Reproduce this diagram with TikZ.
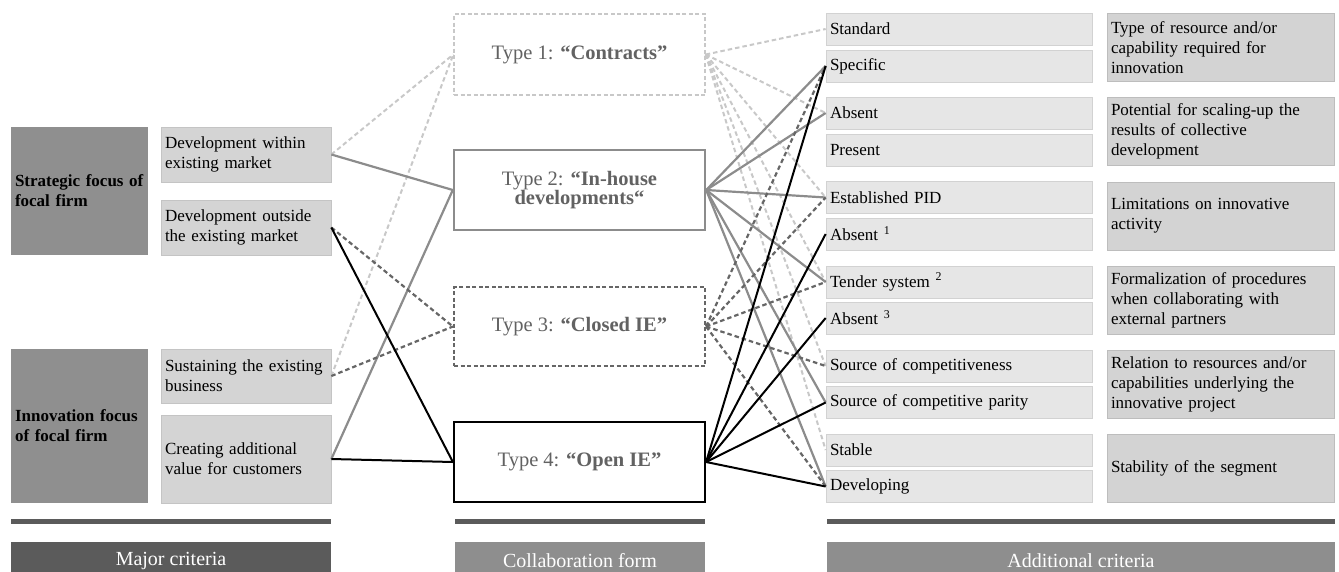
\documentclass[tikz,border=0pt]{standalone}
\usepackage{fontspec}
\setmainfont{Liberation Serif}
\definecolor{darkbox}{HTML}{8F8F8F}
\definecolor{lightbox}{HTML}{D4D4D4}
\definecolor{lightline}{HTML}{C4C4C4}
\definecolor{optfill}{HTML}{E6E6E6}
\definecolor{optline}{HTML}{D2D2D2}
\definecolor{critfill}{HTML}{D3D3D3}
\definecolor{critline}{HTML}{BDBDBD}
\definecolor{bardark}{HTML}{5B5B5B}
\definecolor{barmid}{HTML}{8E8E8E}
\definecolor{typetext}{HTML}{626262}
\definecolor{cone}{HTML}{C8C8C8}
\definecolor{ctwo}{HTML}{8C8C8C}
\definecolor{cthree}{HTML}{666666}
\newcommand{\fsbox}{\fontsize{17}{20}\selectfont}
\newcommand{\fstype}{\fontsize{20.5}{18}\selectfont}
\newcommand{\fsbar}{\fontsize{20}{22}\selectfont}
\tikzset{
  darkcrit/.style={fill=darkbox, draw=none, text width=129pt, inner xsep=4pt, inner ysep=0pt, align=left, font=\fsbox\bfseries},
  lightcrit/.style={fill=lightbox, draw=lightline, line width=0.7pt, text width=162pt, inner xsep=4pt, inner ysep=0pt, align=left, font=\fsbox},
  opt/.style={fill=optfill, draw=optline, line width=0.7pt, text width=258pt, inner xsep=4pt, inner ysep=0pt, minimum height=32pt, align=left, font=\fsbox},
  crit/.style={fill=critfill, draw=critline, line width=0.7pt, text width=219pt, inner xsep=4pt, inner ysep=0pt, minimum height=68pt, align=left, font=\fsbox},
  typebox/.style={fill=white, minimum width=251pt, minimum height=80pt, align=center, text=typetext, font=\fstype},
  tone/.style={typebox, draw=cone, dashed, line width=1.4pt, dash pattern=on 4pt off 2.5pt},
  ttwo/.style={typebox, draw=ctwo, line width=2.4pt},
  tthree/.style={typebox, draw=cthree, line width=2.2pt, dash pattern=on 4pt off 2.5pt},
  tfour/.style={typebox, draw=black, line width=2.2pt},
  barlabel/.style={text=white, minimum height=38pt, inner sep=0pt, font=\fsbar},
  barline/.style={draw=bardark, line width=5pt},
  cnone/.style={draw=cone, line width=2pt, dash pattern=on 4.5pt off 3pt},
  cntwo/.style={draw=ctwo, line width=2.2pt},
  cnthree/.style={draw=cthree, line width=2.2pt, dash pattern=on 4.5pt off 3pt},
  cnfour/.style={draw=black, line width=2pt},
}
\begin{document}
\begin{tikzpicture}[x=1pt, y=-1pt]
\useasboundingbox (0,0) rectangle (1339,571);
\clip (0,0) rectangle (1339,571);
% left major criteria
\node[darkcrit, minimum height=128pt] (sf) at (79.5,191) {Strategic focus of\\focal firm};
\node[darkcrit, minimum height=154pt] (inf) at (79.5,426) {Innovation focus\\of focal firm};
\node[lightcrit, minimum height=55pt] (dw) at (246,154.5) {Development within\\existing market};
\node[lightcrit, minimum height=55pt] (do) at (246,227.5) {Development outside\\the existing market};
\node[lightcrit, minimum height=54pt] (sus) at (246,376) {Sustaining the existing\\business};
\node[lightcrit, minimum height=88pt] (cav) at (246,459) {Creating additional\\value for customers};
% collaboration forms
\node[tone, minimum height=81pt] (t1) at (579.5,54.5) {Type 1: \textbf{“Contracts”}};
\node[ttwo] (t2) at (579.5,190) {Type 2: \textbf{“In-house}\\\textbf{developments“}};
\node[tthree, minimum height=79pt] (t3) at (579.5,326.5) {Type 3: \textbf{“Closed IE”}};
\node[tfour] (t4) at (579.5,462) {Type 4: \textbf{“Open IE”}};
% additional criteria options
\node[opt] (std) at (959,29) {Standard};
\node[opt] (spec) at (959,66) {Specific};
\node[opt] (abs) at (959,113) {Absent};
\node[opt] (pres) at (959,150) {Present};
\node[opt] (est) at (959,197.5) {Established PID};
\node[opt] (absone) at (959,234) {Absent \textsuperscript{1}};
\node[opt] (tender) at (959,282) {Tender system \textsuperscript{2}};
\node[opt] (absthree) at (959,318) {Absent \textsuperscript{3}};
\node[opt] (scomp) at (959,366) {Source of competitiveness};
\node[opt] (spar) at (959,402.5) {Source of competitive parity};
\node[opt] (stable) at (959,450) {Stable};
\node[opt] (devg) at (959,486.5) {Developing};
% additional criteria
\node[crit] (cra) at (1220.5,47.5) {Type of resource and/or\\capability required for\\innovation};
\node[crit] (crb) at (1220.5,131.5) {Potential for scaling-up the\\results of collective\\development};
\node[crit] (crc) at (1220.5,216) {Limitations on innovative\\activity};
\node[crit] (crd) at (1220.5,300) {Formalization of procedures\\when collaborating with\\external partners};
\node[crit] (cre) at (1220.5,384) {Relation to resources and/or\\capabilities underlying the\\innovative project};
\node[crit] (crf) at (1220.5,468) {Stability of the segment};
% bottom bars
\draw[barline] (11,521.5) -- (331,521.5);
\draw[barline] (455,521.5) -- (705,521.5);
\draw[barline] (827,521.5) -- (1335,521.5);
\node[barlabel, fill=bardark, minimum width=320pt] (lma) at (171,561) {Major criteria};
\node[barlabel, fill=barmid, minimum width=250pt] (lcf) at (580,561) {Collaboration form};
\node[barlabel, fill=barmid, minimum width=508pt] (lad) at (1081,561) {Additional criteria};
% connectors: type 1
\draw[cnone] (dw.east) -- (t1.west);
\draw[cnone] (sus.east) -- (t1.west);
\draw[cnone] (t1.east) -- (std.west);
\draw[cnone] (t1.east) -- (abs.west);
\draw[cnone] (t1.east) -- (est.west);
\draw[cnone] (t1.east) -- (tender.west);
\draw[cnone] (t1.east) -- (scomp.west);
\draw[cnone] (t1.east) -- (stable.west);
% type 2
\draw[cntwo] (dw.east) -- (t2.west);
\draw[cntwo] (cav.east) -- (t2.west);
\draw[cntwo] (t2.east) -- (spec.west);
\draw[cntwo] (t2.east) -- (abs.west);
\draw[cntwo] (t2.east) -- (est.west);
\draw[cntwo] (t2.east) -- (tender.west);
\draw[cntwo] (t2.east) -- (spar.west);
\draw[cntwo] (t2.east) -- (devg.west);
% type 3
\draw[cnthree] (do.east) -- (t3.west);
\draw[cnthree] (sus.east) -- (t3.west);
\draw[cnthree] (t3.east) -- (spec.west);
\draw[cnthree] (t3.east) -- (est.west);
\draw[cnthree] (t3.east) -- (tender.west);
\draw[cnthree] (t3.east) -- (scomp.west);
\draw[cnthree] (t3.east) -- (devg.west);
% type 4
\draw[cnfour] (do.east) -- (t4.west);
\draw[cnfour] (cav.east) -- (t4.west);
\draw[cnfour] (t4.east) -- (spec.west);
\draw[cnfour] (t4.east) -- (absone.west);
\draw[cnfour] (t4.east) -- (absthree.west);
\draw[cnfour] (t4.east) -- (spar.west);
\draw[cnfour] (t4.east) -- (devg.west);
\end{tikzpicture}
\end{document}
